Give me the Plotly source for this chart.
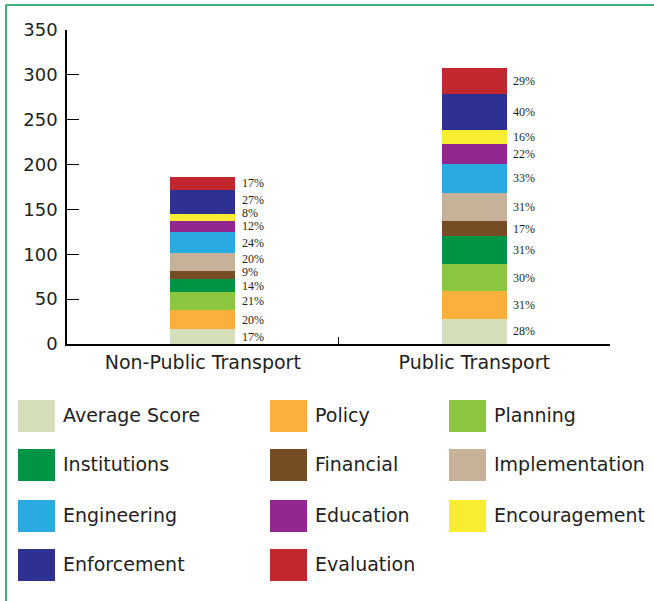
import plotly.graph_objects as go

# Data
transport = ["Non-Public Transport", "Public Transport"]
factors = ["Average Score", "Policy", "Planning", "Institutions", "Financial",
           "Implementation", "Engineering", "Education", "Encouragement",
           "Enforcement", "Evaluation"]
non_public = [16.5, 21, 20, 14.5, 9, 20, 24, 12, 7.5, 27, 15]
public = [28, 31, 30, 31, 17, 31, 33, 22, 16, 40, 29]
non_public_pct = ["17%", "20%", "21%", "14%", "9%", "20%", "24%", "12%", "8%", "27%", "17%"]
public_pct = ["28%", "31%", "30%", "31%", "17%", "31%", "33%", "22%", "16%", "40%", "29%"]
y_ticks = [0, 50, 100, 150, 200, 250, 300, 350]

colors = ["#d5dfb9", "#fbb03b", "#8dc63f", "#009444", "#754c24", "#c7b299",
          "#29abe2", "#92278f", "#f9ed32", "#2e3192", "#c1272d"]

# plot area in pixels (for placing the hand-made legend and frame)
W, H = 654, 601
L, R, T, B = 67, 44, 30, 257
PW, PH = W - L - R, H - T - B


def px2x(px):
    return (px - L) / PW


def px2y(py):
    return (H - B - py) / PH


fig = go.Figure()

for i, f in enumerate(factors):
    fig.add_trace(go.Bar(x=transport, y=[non_public[i], public[i]], name=f,
                         marker=dict(color=colors[i], line=dict(width=0)),
                         showlegend=False))

# percentage labels right of each bar, nudged so they don't collide
annotations = []
for xi, (vals, pcts) in enumerate([(non_public, non_public_pct), (public, public_pct)]):
    base = 0
    prev = None
    for v, p in zip(vals, pcts):
        mid = base + v / 2
        if prev is not None and mid < prev + 15:
            mid = prev + 15
        prev = mid
        base += v
        annotations.append(dict(x=transport[xi], y=mid, text=p, showarrow=False,
                                xanchor="left", yanchor="middle", xshift=38, borderpad=0,
                                font=dict(family="Liberation Serif", size=12, color="#231f20")))

# legend drawn as squares + text, 3 columns
shapes = []
row_tops = [400, 449, 500, 549]
col_lefts = [18, 270, 449]
text_lefts = [61, 313, 492]
for i, f in enumerate(factors):
    r, c = divmod(i, 3)
    shapes.append(dict(type="rect", xref="paper", yref="paper",
                       x0=px2x(col_lefts[c]), x1=px2x(col_lefts[c] + 37),
                       y0=px2y(row_tops[r]), y1=px2y(row_tops[r] + 32),
                       fillcolor=colors[i], line=dict(width=0)))
    annotations.append(dict(xref="paper", yref="paper", x=px2x(text_lefts[c]),
                            y=px2y(row_tops[r] + 15), text=f, showarrow=False,
                            xanchor="left", yanchor="middle",
                            font=dict(family="DejaVu Sans", size=19, color="#231f20")))

# green frame on left and top
green = "#3bb273"
shapes.append(dict(type="line", xref="paper", yref="paper", x0=px2x(6), x1=px2x(6),
                   y0=px2y(5), y1=px2y(H + 2), line=dict(color=green, width=2)))
shapes.append(dict(type="line", xref="paper", yref="paper", x0=px2x(6), x1=px2x(W + 2),
                   y0=px2y(5), y1=px2y(5), line=dict(color=green, width=2)))

fig.update_layout(
    width=W, height=H,
    margin=dict(l=L, r=R, t=T, b=B),
    barmode="stack", bargap=0.76,
    plot_bgcolor="white", paper_bgcolor="white",
    font=dict(family="DejaVu Sans", color="#231f20"),
    shapes=shapes, annotations=annotations,
)
fig.update_xaxes(range=[-0.5, 1.5], showline=True, linecolor="black", linewidth=1.5,
                 ticks="inside", tickson="boundaries", ticklen=7, tickcolor="black",
                 showgrid=False, tickfont=dict(size=19))
fig.update_yaxes(range=[0, 350], tickvals=y_ticks, showline=True, linecolor="black",
                 linewidth=1.5, ticks="inside", ticklen=12, tickcolor="black",
                 showgrid=False, zeroline=False, tickfont=dict(size=18),
                 ticklabelstandoff=4)

# page has a default body margin; remove it so the figure sits at 0,0
fig.write_html("out.html", config={"displayModeBar": False},
               post_script="document.body.style.margin='0';")
